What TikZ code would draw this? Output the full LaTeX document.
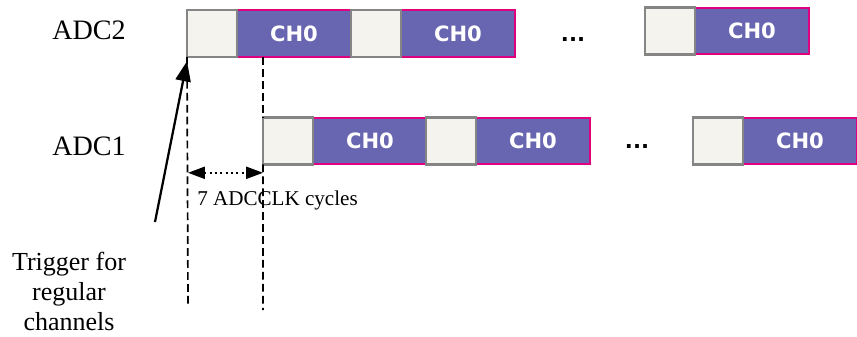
\documentclass[tikz,border=0pt]{standalone}
\usepackage{fontspec}
\setmainfont{Liberation Serif}
\newfontfamily\chfont{DejaVu Sans}
\usetikzlibrary{positioning,arrows.meta}
\definecolor{idlefill}{HTML}{F4F3EE}
\definecolor{idleline}{HTML}{858585}
\definecolor{chfill}{HTML}{6866B0}
\definecolor{chline}{HTML}{DE0080}

\begin{document}
\begin{tikzpicture}[>={Triangle[length=5mm,width=3.8mm]},
  idlebox/.style={draw=idleline,fill=idlefill,line width=1.8pt,minimum width=1.25cm,minimum height=1.17cm,inner sep=0pt,outer sep=0pt},
  chbox/.style={draw=chline,fill=chfill,line width=1.4pt,minimum width=2.85cm,minimum height=1.17cm,inner sep=0pt,outer sep=0pt,
    text=white,font=\chfont\bfseries\fontsize{15}{18}\selectfont},
  adclabel/.style={font=\rmfamily\fontsize{20}{24}\selectfont},
  vline/.style={dashed,line width=1.2pt,dash pattern=on 5.5pt off 3pt},
  dotsep/.style={font=\chfont\bfseries\fontsize{15}{18}\selectfont}]
\useasboundingbox (0,0) rectangle (21.425,8.4);

% ADC2 conversions
\node[chbox,anchor=west] (a2c1) at (5.925,7.56) {CH0};
\node[idlebox,left=0pt of a2c1] (a2i1) {};
\node[chbox,anchor=west] (a2c2) at (10.025,7.56) {CH0};
\node[idlebox,left=0pt of a2c2] (a2i2) {};
\node[dotsep] (a2dots) at (14.325,7.4) {...};
\node[chbox,anchor=west] (a2c3) at (17.375,7.625) {CH0};
\node[idlebox,left=0pt of a2c3] (a2i3) {};

% ADC1 conversions
\node[chbox,anchor=west] (a1c1) at (7.825,4.875) {CH0};
\node[idlebox,left=0pt of a1c1] (a1i1) {};
\node[chbox,anchor=west] (a1c2) at (11.9,4.875) {CH0};
\node[idlebox,left=0pt of a1c2] (a1i2) {};
\node[dotsep] (a1dots) at (15.925,4.725) {...};
\node[chbox,anchor=west] (a1c3) at (18.575,4.875) {CH0};
\node[idlebox,left=0pt of a1c3] (a1i3) {};

\node[adclabel] (adc2) at (2.225,7.64) {ADC2};
\node[adclabel] (adc1) at (2.225,4.73) {ADC1};

% trigger and delay markers
\coordinate (trigbot) at (4.7,0.78);
\coordinate (delaybot) at (6.575,0.65);
\draw[vline] (a2i1.south west) -- (trigbot);
\draw[vline] (a1i1.west |- a2c1.south) -- (a1i1.north west);
\draw[vline] (a1i1.south west) -- (delaybot);

\coordinate (dl) at (4.7,4.08);
\coordinate (dr) at (6.575,4.08);
\draw[{Triangle[length=4.2mm,width=3mm]}-{Triangle[length=4.2mm,width=3mm]},line width=1.4pt,dash pattern=on 1.4pt off 2.4pt]
  (dl) -- (dr);
\node[anchor=base west,font=\rmfamily\fontsize{15}{18}\selectfont,inner sep=0pt] (cycles) at (4.925,3.25) {7 ADCCLK cycles};

\coordinate (trigtail) at (3.875,2.85);
\draw[->,line width=1.6pt] (trigtail) -- ([yshift=-3pt]a2i1.south west);
\node[align=center,font=\rmfamily\fontsize{18.5}{21.5}\selectfont] (trig) at (1.725,1.12) {Trigger for\\regular\\channels};
\end{tikzpicture}
\end{document}
